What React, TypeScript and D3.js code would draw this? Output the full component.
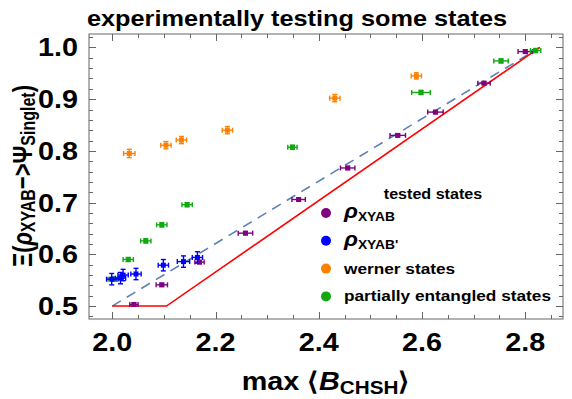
import { useEffect, useRef } from 'react'
import * as d3 from 'd3'

// --- DATA ---
const purpleX = [2.042, 2.096, 2.169, 2.258, 2.361, 2.456, 2.553, 2.626, 2.72, 2.8]
const purpleY = [0.503, 0.541, 0.585, 0.641, 0.706, 0.767, 0.83, 0.875, 0.931, 0.992]
const purpleXErr = [0.008, 0.011, 0.009, 0.014, 0.013, 0.014, 0.015, 0.015, 0.012, 0.014]
const purpleYErr = [0.003, 0.003, 0.003, 0.003, 0.003, 0.003, 0.003, 0.003, 0.003, 0.003]

const blueX = [1.999, 2.016, 2.021, 2.046, 2.099, 2.138, 2.165]
const blueY = [0.552, 0.554, 0.56, 0.562, 0.579, 0.586, 0.594]
const blueXErr = [0.01, 0.01, 0.01, 0.01, 0.01, 0.012, 0.01]
const blueYErr = [0.011, 0.011, 0.011, 0.011, 0.011, 0.011, 0.011]

const orangeX = [2.033, 2.104, 2.134, 2.223, 2.431, 2.589]
const orangeY = [0.795, 0.811, 0.821, 0.84, 0.902, 0.945]
const orangeXErr = [0.011, 0.01, 0.01, 0.01, 0.01, 0.01]
const orangeYErr = [0.008, 0.007, 0.007, 0.007, 0.007, 0.006]

const greenX = [2.002, 2.031, 2.065, 2.096, 2.145, 2.349, 2.598, 2.753, 2.82]
const greenY = [0.552, 0.59, 0.626, 0.657, 0.696, 0.807, 0.913, 0.974, 0.994]
const greenXErr = [0.01, 0.01, 0.01, 0.01, 0.01, 0.009, 0.018, 0.014, 0.01]
const greenYErr = [0.004, 0.004, 0.004, 0.004, 0.004, 0.004, 0.004, 0.004, 0.004]

// bounds: red = lower bound, dashed = straight line
const redBoundX = [2.0, 2.105, 2.828]
const redBoundY = [0.5, 0.5, 1.0]
const dashedX = [2.0, 2.828]
const dashedY = [0.5, 1.0]

const xTicks = [2.0, 2.2, 2.4, 2.6, 2.8]
const yTicks = [0.5, 0.6, 0.7, 0.8, 0.9, 1.0]

const legendLabels = ['XYAB', "XYAB'", 'werner states', 'partially entangled states']

type Pt = { x: number; y: number; ex: number; ey: number }

const zip = (xs: number[], ys: number[], ex: number[], ey: number[]): Pt[] =>
  xs.map((x, i) => ({ x, y: ys[i], ex: ex[i], ey: ey[i] }))

const series = [
  { name: 'purple', color: '#800080', pts: zip(purpleX, purpleY, purpleXErr, purpleYErr) },
  { name: 'orange', color: '#ff8000', pts: zip(orangeX, orangeY, orangeXErr, orangeYErr) },
  { name: 'green', color: '#12a812', pts: zip(greenX, greenY, greenXErr, greenYErr) },
  { name: 'blue', color: '#0000ff', pts: zip(blueX, blueY, blueXErr, blueYErr) },
]
const legendColors = ['#800080', '#0000ff', '#ff8000', '#12a812']

const FONT = 'Liberation Sans, Arial, sans-serif'
const SX = 1.15 // the reference looks stretched sideways

export default function App() {
  const svgRef = useRef<SVGSVGElement | null>(null)

  useEffect(() => {
    if (!svgRef.current) return
    const width = 572
    const height = 399
    const left = 89
    const right = 563
    const top = 34
    const bottom = 319

    const svg = d3.select(svgRef.current)
    svg.selectAll('*').remove()

    const x = d3.scaleLinear().domain([1.955, 2.873]).range([left, right])
    const y = d3.scaleLinear().domain([0.475, 1.026]).range([bottom, top])

    // --- FRAME ---
    svg
      .append('rect')
      .attr('x', left)
      .attr('y', top)
      .attr('width', right - left)
      .attr('height', bottom - top)
      .attr('fill', 'none')
      .attr('stroke', '#666')
      .attr('stroke-width', 1)

    // --- TICKS (inward, all four sides) ---
    const tickG = svg.append('g').attr('stroke', '#666').attr('stroke-width', 1)
    const xMinor = d3.range(1.95, 2.9, 0.05).filter((v) => v > 1.955 && v < 2.873)
    xMinor.forEach((v) => {
      const major = Math.abs(Math.round(v * 5) - v * 5) < 1e-6
      const len = major ? 7 : 4
      const px = Math.round(x(v)) + 0.5
      tickG.append('line').attr('x1', px).attr('x2', px).attr('y1', bottom).attr('y2', bottom - len)
      tickG.append('line').attr('x1', px).attr('x2', px).attr('y1', top).attr('y2', top + len)
    })
    const yMinor = d3.range(0.48, 1.03, 0.02).filter((v) => v > 0.475 && v < 1.026)
    yMinor.forEach((v) => {
      const major = Math.abs(Math.round(v * 10) - v * 10) < 1e-6
      const len = major ? 7 : 4
      const py = Math.round(y(v)) + 0.5
      tickG.append('line').attr('x1', left).attr('x2', left + len).attr('y1', py).attr('y2', py)
      tickG.append('line').attr('x1', right).attr('x2', right - len).attr('y1', py).attr('y2', py)
    })

    // --- TICK LABELS ---
    xTicks.forEach((v) => {
      svg
        .append('text')
        .attr('transform', `translate(${x(v)},351) scale(${SX},1)`)
        .attr('text-anchor', 'middle')
        .attr('font-family', FONT)
        .attr('font-weight', 'bold')
        .attr('font-size', 25)
        .text(v.toFixed(1))
    })
    yTicks.forEach((v) => {
      svg
        .append('text')
        .attr('transform', `translate(78,${y(v) + 9}) scale(${SX},1)`)
        .attr('text-anchor', 'end')
        .attr('font-family', FONT)
        .attr('font-weight', 'bold')
        .attr('font-size', 25)
        .text(v.toFixed(1))
    })

    // --- BOUND LINES ---
    const line = d3
      .line<[number, number]>()
      .x((d) => x(d[0]))
      .y((d) => y(d[1]))

    svg
      .append('path')
      .datum(dashedX.map((v, i) => [v, dashedY[i]] as [number, number]))
      .attr('d', line)
      .attr('fill', 'none')
      .attr('stroke', '#5e81b5')
      .attr('stroke-width', 1.6)
      .attr('stroke-dasharray', '10,7')

    svg
      .append('path')
      .datum(redBoundX.map((v, i) => [v, redBoundY[i]] as [number, number]))
      .attr('d', line)
      .attr('fill', 'none')
      .attr('stroke', '#ff0000')
      .attr('stroke-width', 1.6)

    // --- ERROR BARS + POINTS ---
    const cap = 2.5
    series.forEach((s) => {
      const g = svg.append('g').attr('stroke', s.color).attr('stroke-width', 1.4)
      s.pts.forEach((p) => {
        const cx = x(p.x)
        const cy = y(p.y)
        const x0 = x(p.x - p.ex)
        const x1 = x(p.x + p.ex)
        const y0 = y(p.y - p.ey)
        const y1 = y(p.y + p.ey)
        g.append('line').attr('x1', x0).attr('x2', x1).attr('y1', cy).attr('y2', cy)
        g.append('line').attr('x1', x0).attr('x2', x0).attr('y1', cy - cap).attr('y2', cy + cap)
        g.append('line').attr('x1', x1).attr('x2', x1).attr('y1', cy - cap).attr('y2', cy + cap)
        g.append('line').attr('x1', cx).attr('x2', cx).attr('y1', y0).attr('y2', y1)
        g.append('line').attr('x1', cx - cap).attr('x2', cx + cap).attr('y1', y0).attr('y2', y0)
        g.append('line').attr('x1', cx - cap).attr('x2', cx + cap).attr('y1', y1).attr('y2', y1)
        g.append('rect')
          .attr('x', cx - 2.5)
          .attr('y', cy - 2.5)
          .attr('width', 5)
          .attr('height', 5)
          .attr('fill', s.color)
          .attr('stroke', 'none')
      })
    })

    // --- LEGEND ---
    const leg = svg.append('g').attr('font-family', FONT).attr('font-weight', 'bold')
    leg
      .append('text')
      .attr('transform', `translate(433,199) scale(${SX},1)`)
      .attr('text-anchor', 'middle')
      .attr('font-size', 14)
      .text('tested states')

    legendLabels.forEach((lab, i) => {
      const cy = 213 + i * 27.8
      leg.append('circle').attr('cx', 326).attr('cy', cy).attr('r', 5).attr('fill', legendColors[i])
      const t = leg
        .append('text')
        .attr('transform', `translate(344,${cy + 5}) scale(${SX},1)`)
        .attr('font-size', 15)
      if (i < 2) {
        t.append('tspan').attr('font-style', 'italic').attr('font-size', 20).text('ρ')
        t.append('tspan').attr('font-size', 12).attr('dy', 3).text(lab)
      } else {
        t.text(lab)
      }
    })

    // --- TITLE ---
    svg
      .append('text')
      .attr('transform', `translate(297,26) scale(${SX},1)`)
      .attr('text-anchor', 'middle')
      .attr('font-family', FONT)
      .attr('font-weight', 'bold')
      .attr('font-size', 22)
      .text('experimentally testing some states')

    // --- AXIS LABELS ---
    const xl = svg
      .append('text')
      .attr('transform', `translate(326,390) scale(${SX},1)`)
      .attr('text-anchor', 'middle')
      .attr('font-family', FONT)
      .attr('font-weight', 'bold')
      .attr('font-size', 25)
    xl.append('tspan').text('max ⟨')
    xl.append('tspan').attr('font-style', 'italic').text('B')
    xl.append('tspan').attr('font-size', 18).attr('dy', 4).text('CHSH')
    xl.append('tspan').attr('dy', -4).text('⟩')

    const yl = svg
      .append('text')
      .attr('transform', `translate(32,176) scale(1.25,1) rotate(-90)`)
      .attr('text-anchor', 'middle')
      .attr('font-family', FONT)
      .attr('font-weight', 'bold')
      .attr('font-size', 22)
    yl.append('tspan').text('Ξ(')
    yl.append('tspan').attr('font-style', 'italic').text('ρ')
    yl.append('tspan').attr('font-size', 16).attr('dy', 2).text('XYAB')
    yl.append('tspan').attr('dy', -2).text('−>Ψ')
    yl.append('tspan').attr('font-size', 16).attr('dy', 2).text('Singlet')
    yl.append('tspan').attr('dy', -2).text(')')

    svg.attr('width', width).attr('height', height)
  }, [])

  return (
    <div style={{ position: 'absolute', left: 0, top: 0 }}>
      <svg ref={svgRef} width={572} height={399} style={{ display: 'block', background: '#fff' }} />
    </div>
  )
}
